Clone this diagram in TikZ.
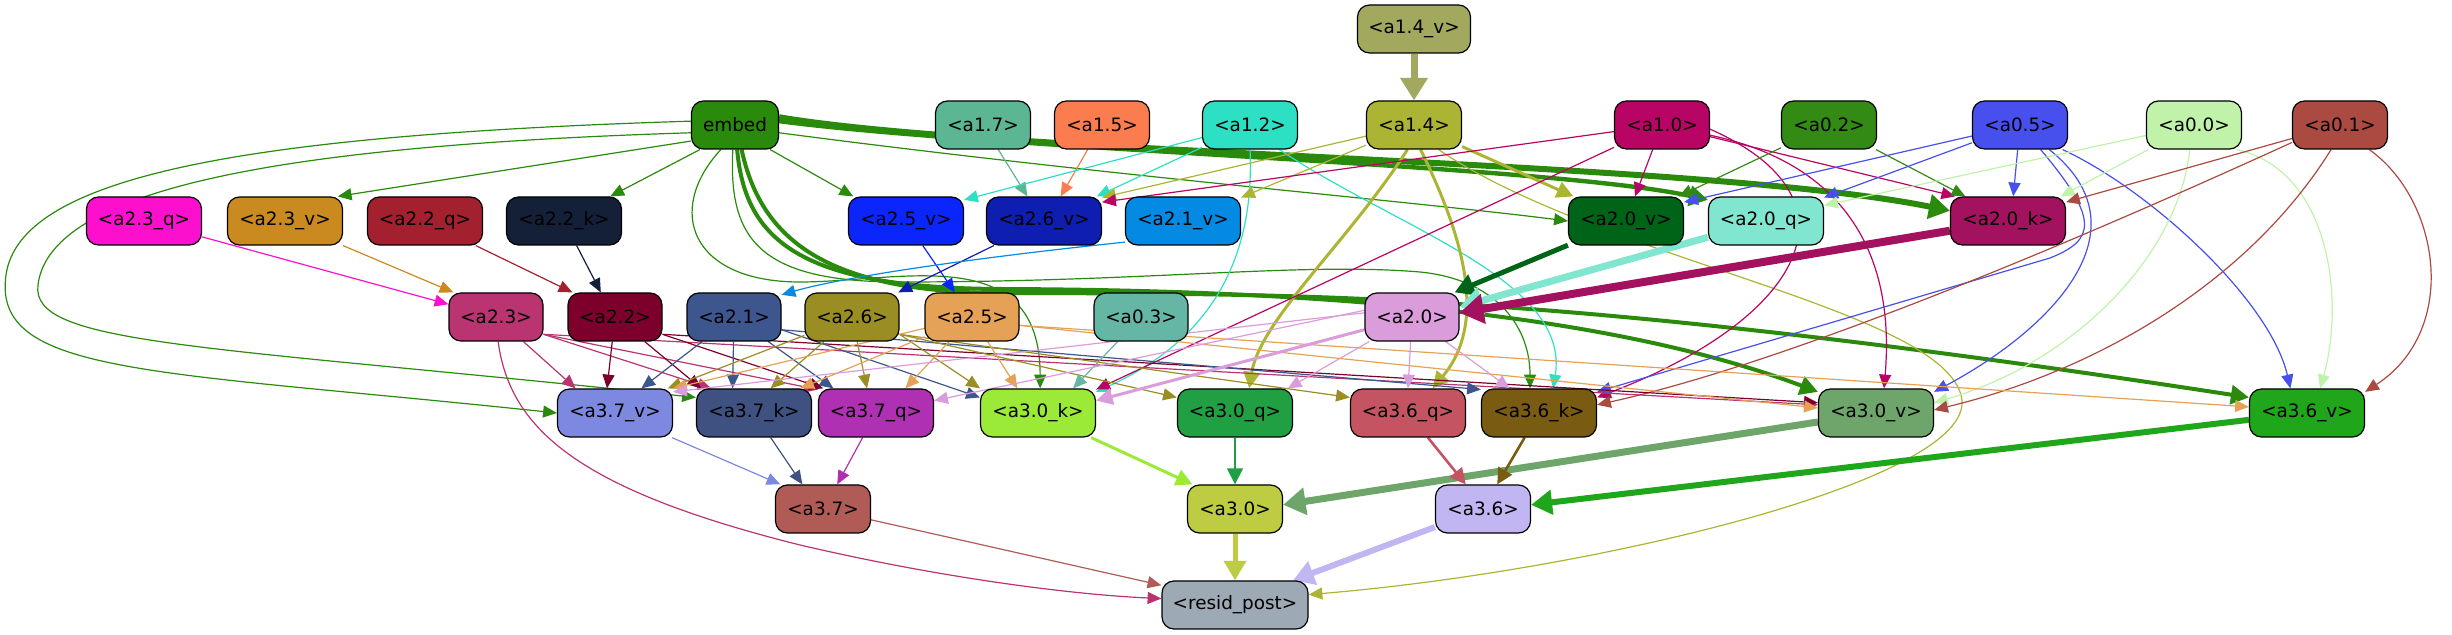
\documentclass[tikz,border=0pt]{standalone}
\usepackage{fontspec}
\newfontfamily\nf{DejaVu Sans}
\usetikzlibrary{arrows.meta}
\pgfdeclarelayer{edges}
\pgfsetlayers{edges,main}
\definecolor{cemb}{HTML}{2A8A0C}
\definecolor{ca14v}{HTML}{A2A95E}
\definecolor{ca17}{HTML}{5CB593}
\definecolor{ca15}{HTML}{FB7D4F}
\definecolor{ca12}{HTML}{2EE0C3}
\definecolor{ca14}{HTML}{ACB533}
\definecolor{ca10}{HTML}{B80464}
\definecolor{ca02}{HTML}{338B16}
\definecolor{ca05}{HTML}{474FEC}
\definecolor{ca00}{HTML}{C0F2AA}
\definecolor{ca01}{HTML}{AB4A40}
\definecolor{ca23q}{HTML}{FC10CD}
\definecolor{ca23v}{HTML}{CA8A1F}
\definecolor{ca22q}{HTML}{A3202F}
\definecolor{ca22k}{HTML}{142037}
\definecolor{ca25v}{HTML}{0A26FC}
\definecolor{ca26v}{HTML}{0D1EB0}
\definecolor{ca21v}{HTML}{058AE3}
\definecolor{ca20v}{HTML}{006418}
\definecolor{ca20q}{HTML}{80E6D0}
\definecolor{ca20k}{HTML}{A2125E}
\definecolor{ca23}{HTML}{B93470}
\definecolor{ca22}{HTML}{7C002B}
\definecolor{ca21}{HTML}{3D568D}
\definecolor{ca26}{HTML}{9A8D23}
\definecolor{ca25}{HTML}{E5A156}
\definecolor{ca03}{HTML}{65B6A5}
\definecolor{ca20}{HTML}{DB9CDB}
\definecolor{ca37v}{HTML}{7D89E0}
\definecolor{ca37k}{HTML}{3E5180}
\definecolor{ca37q}{HTML}{B030B3}
\definecolor{ca30k}{HTML}{9BEA37}
\definecolor{ca30q}{HTML}{20A042}
\definecolor{ca36q}{HTML}{C55462}
\definecolor{ca36k}{HTML}{7A5B12}
\definecolor{ca30v}{HTML}{6DA56B}
\definecolor{ca36v}{HTML}{20A61A}
\definecolor{ca37}{HTML}{B05B56}
\definecolor{ca30}{HTML}{BDCC43}
\definecolor{ca36}{HTML}{C1B6F2}
\definecolor{crp}{HTML}{9DA9B5}
\tikzset{
  nd/.style={draw=black, line width=0.6pt, rounded corners=6pt, minimum height=24pt, inner sep=0pt, text=black, font=\nf\fontsize{9.2pt}{11pt}\selectfont},
  e/.style={line width=0.6pt, -{Triangle[length=6pt 1.5, width=4.5pt 2.5]}},
}
\begin{document}
\begin{tikzpicture}[x=0.5pt,y=-0.5pt]
\useasboundingbox (0,0) rectangle (2452,635);
% row 0
\node[nd,fill=ca14v,minimum width=56.5pt] (a14v) at (1414,29) {<a1.4\_v>};
% row 1
\node[nd,fill=cemb,minimum width=43.5pt] (emb) at (735,125) {embed};
\node[nd,fill=ca17,minimum width=47.5pt] (a17) at (983,125) {<a1.7>};
\node[nd,fill=ca15,minimum width=47.5pt] (a15) at (1102,125) {<a1.5>};
\node[nd,fill=ca12,minimum width=47.5pt] (a12) at (1250,125) {<a1.2>};
\node[nd,fill=ca14,minimum width=47.5pt] (a14) at (1414,125) {<a1.4>};
\node[nd,fill=ca10,minimum width=47.5pt] (a10) at (1662,125) {<a1.0>};
\node[nd,fill=ca02,minimum width=47.5pt] (a02) at (1829,125) {<a0.2>};
\node[nd,fill=ca05,minimum width=47.5pt] (a05) at (2020,125) {<a0.5>};
\node[nd,fill=ca00,minimum width=47.5pt] (a00) at (2194,125) {<a0.0>};
\node[nd,fill=ca01,minimum width=47.5pt] (a01) at (2340,125) {<a0.1>};
% row 2
\node[nd,fill=ca23q,minimum width=57.5pt] (a23q) at (144,221) {<a2.3\_q>};
\node[nd,fill=ca23v,minimum width=57.5pt] (a23v) at (285,221) {<a2.3\_v>};
\node[nd,fill=ca22q,minimum width=57.5pt] (a22q) at (425,221) {<a2.2\_q>};
\node[nd,fill=ca22k,minimum width=57.5pt] (a22k) at (564,221) {<a2.2\_k>};
\node[nd,fill=ca25v,minimum width=57.5pt] (a25v) at (906,221) {<a2.5\_v>};
\node[nd,fill=ca26v,minimum width=57.5pt] (a26v) at (1044,221) {<a2.6\_v>};
\node[nd,fill=ca21v,minimum width=57.5pt] (a21v) at (1183,221) {<a2.1\_v>};
\node[nd,fill=ca20v,minimum width=57.5pt] (a20v) at (1626,221) {<a2.0\_v>};
\node[nd,fill=ca20q,minimum width=57.5pt] (a20q) at (1766,221) {<a2.0\_q>};
\node[nd,fill=ca20k,minimum width=57.5pt] (a20k) at (2008,221) {<a2.0\_k>};
% row 3
\node[nd,fill=ca23,minimum width=47pt] (a23) at (496,317) {<a2.3>};
\node[nd,fill=ca22,minimum width=47pt] (a22) at (615,317) {<a2.2>};
\node[nd,fill=ca21,minimum width=47pt] (a21) at (734,317) {<a2.1>};
\node[nd,fill=ca26,minimum width=47pt] (a26) at (852,317) {<a2.6>};
\node[nd,fill=ca25,minimum width=47pt] (a25) at (972,317) {<a2.5>};
\node[nd,fill=ca03,minimum width=47pt] (a03) at (1141,317) {<a0.3>};
\node[nd,fill=ca20,minimum width=47pt] (a20) at (1412,317) {<a2.0>};
% row 4
\node[nd,fill=ca37v,minimum width=57.5pt] (a37v) at (615,413) {<a3.7\_v>};
\node[nd,fill=ca37k,minimum width=57.5pt] (a37k) at (754,413) {<a3.7\_k>};
\node[nd,fill=ca37q,minimum width=57.5pt] (a37q) at (876,413) {<a3.7\_q>};
\node[nd,fill=ca30k,minimum width=57.5pt] (a30k) at (1038,413) {<a3.0\_k>};
\node[nd,fill=ca30q,minimum width=57.5pt] (a30q) at (1235,413) {<a3.0\_q>};
\node[nd,fill=ca36q,minimum width=57.5pt] (a36q) at (1408,413) {<a3.6\_q>};
\node[nd,fill=ca36k,minimum width=57.5pt] (a36k) at (1539,413) {<a3.6\_k>};
\node[nd,fill=ca30v,minimum width=57.5pt] (a30v) at (1876,413) {<a3.0\_v>};
\node[nd,fill=ca36v,minimum width=57.5pt] (a36v) at (2307,413) {<a3.6\_v>};
% row 5
\node[nd,fill=ca37,minimum width=47.5pt] (a37) at (823,509) {<a3.7>};
\node[nd,fill=ca30,minimum width=47.5pt] (a30) at (1235,509) {<a3.0>};
\node[nd,fill=ca36,minimum width=47.5pt] (a36) at (1483,509) {<a3.6>};
% row 6
\node[nd,fill=crp,minimum width=73pt] (rp) at (1235,605) {<resid\_post>};

\begin{pgfonlayer}{edges}
\draw[e,ca14v,line width=3.5pt] (a14v) -- (a14);
% embed
\draw[e,cemb,line width=3pt] (emb.10) .. controls (1000,155) and (1700,160) .. (a20k.170);
\draw[e,cemb,line width=2.2pt] (emb.5) .. controls (1000,150) and (1550,165) .. (a20q.160);
\draw[e,cemb] (emb.-10) .. controls (1100,175) and (1400,200) .. (a20v.west);
\draw[e,cemb] (emb.-35) -- (a25v.155);
\draw[e,cemb] (emb.200) -- (a23v.25);
\draw[e,cemb] (emb.215) -- (a22k.28);
\draw[e,cemb] (emb.175) .. controls (250,135) and (20,175) .. (6,275) .. controls (-8,375) and (150,370) .. (a37v.west);
\draw[e,cemb] (emb.190) .. controls (300,145) and (50,185) .. (38,285) .. controls (30,345) and (200,345) .. (a37k.165);
\draw[e,cemb] (emb.240) .. controls (665,210) and (690,282) .. (800,282) .. controls (900,282) and (1040,240) .. (a30k.85);
\draw[e,cemb] (emb.265) .. controls (728,240) and (760,282) .. (900,282) .. controls (1150,282) and (1300,262) .. (1420,272) .. controls (1500,280) and (1530,330) .. (a36k.110);
\draw[e,cemb,line width=2pt] (emb.275) .. controls (745,240) and (800,288) .. (1000,289) .. controls (1300,290) and (1600,310) .. (a30v.160);
\draw[e,cemb,line width=2pt] (emb.285) .. controls (760,235) and (820,292) .. (1000,293) .. controls (1300,294) and (1550,290) .. (a36v.165);
% a1.x
\draw[e,ca17] (a17) -- (a26v.124);
\draw[e,ca15] (a15) -- (a26v.56);
\draw[e,ca12] (a12) -- (a25v.20);
\draw[e,ca12] (a12) -- (a26v.25);
\draw[e,ca12] (a12.south) .. controls (1255,260) and (1210,340) .. (a30k.20);
\draw[e,ca12] (a12.-40) .. controls (1400,230) and (1570,280) .. (a36k.60);
\draw[e,ca14,line width=1.5pt] (a14) -- (a20v.155);
\draw[e,ca14] (a14) -- (a26v.22);
\draw[e,ca14] (a14) -- (a21v.22);
\draw[e,ca14,line width=1.5pt] (a14.255) .. controls (1350,240) and (1260,320) .. (a30q.60);
\draw[e,ca14,line width=1.5pt] (a14.285) .. controls (1460,230) and (1490,320) .. (a36q.45);
\draw[e,ca14] (a14.-45) .. controls (1600,260) and (1950,310) .. (1962,400) .. controls (1970,480) and (1600,570) .. (rp.8);
\draw[e,ca10] (a10) -- (a20v.70);
\draw[e,ca10] (a10) -- (a26v.18);
\draw[e,ca10] (a10) -- (a20k.155);
\draw[e,ca10] (a10) -- (a30k.22);
\draw[e,ca10] (a10.-5) .. controls (1870,200) and (1800,320) .. (a36k.15);
\draw[e,ca10] (a10.-12) .. controls (1850,165) and (1895,260) .. (a30v.72);
% a0.x
\draw[e,ca02] (a02) -- (a20v.25);
\draw[e,ca02] (a02) -- (a20k.150);
\draw[e,ca05] (a05) -- (a20v.18);
\draw[e,ca05] (a05) -- (a20q.22);
\draw[e,ca05] (a05) -- (a20k.78);
\draw[e,ca05] (a05.-50) .. controls (2100,220) and (2095,240) .. (2050,258) -- (a36k.20);
\draw[e,ca05] (a05.-40) .. controls (2150,230) and (2050,330) .. (a30v.20);
\draw[e,ca05] (a05.-30) .. controls (2150,190) and (2270,300) .. (a36v.124);
\draw[e,ca00] (a00) -- (a20q.15);
\draw[e,ca00] (a00) -- (a20k.25);
\draw[e,ca00] (a00.260) .. controls (2180,250) and (2080,360) .. (a30v.10);
\draw[e,ca00] (a00.-30) .. controls (2330,170) and (2345,300) .. (a36v.62);
\draw[e,ca01] (a01) -- (a20k.18);
\draw[e,ca01] (a01.200) .. controls (2100,230) and (1800,360) .. (a36k.8);
\draw[e,ca01] (a01.250) .. controls (2250,280) and (2100,370) .. (a30v.3);
\draw[e,ca01] (a01.-40) .. controls (2440,200) and (2460,330) .. (a36v.20);
% row 2 -> 3
\draw[e,ca23q] (a23q) -- (a23.165);
\draw[e,ca23v] (a23v) -- (a23.150);
\draw[e,ca22q] (a22q) -- (a22.150);
\draw[e,ca22k] (a22k) -- (a22.120);
\draw[e,ca25v] (a25v) -- (a25.125);
\draw[e,ca26v] (a26v) -- (a26.28);
\draw[e,ca21v] (a21v.200) .. controls (1000,255) and (850,275) .. (a21.25);
\draw[e,ca20v,line width=2.5pt] (a20v) -- (a20.30);
\draw[e,ca20q,line width=3.5pt] (a20q) -- (a20.12);
\draw[e,ca20k,line width=4pt] (a20k) -- (a20.5);
% row 3 -> 4
\draw[e,ca23] (a23) -- (a37v.148);
\draw[e,ca23] (a23.-20) -- (a37k.150);
\draw[e,ca23] (a23.-20) -- (a37q.158);
\draw[e,ca23] (a23.-20) -- (a30v.172);
\draw[e,ca23] (a23.-85) .. controls (510,430) and (580,490) .. (800,545) .. controls (950,580) and (1080,595) .. (rp.175);
\draw[e,ca22] (a22) -- (a37v.108);
\draw[e,ca22] (a22) -- (a37k.155);
\draw[e,ca22] (a22.-20) -- (a37q.155);
\draw[e,ca22] (a22.-20) -- (a30v.170);
\draw[e,ca21] (a21) -- (a37v.43);
\draw[e,ca21] (a21) -- (a37k.131);
\draw[e,ca21] (a21) -- (a37q.150);
\draw[e,ca21] (a21.-15) -- (a30k.165);
\draw[e,ca21] (a21.-15) -- (a36k.158);
\draw[e,ca26] (a26) -- (a37v.25);
\draw[e,ca26] (a26) -- (a37k.56);
\draw[e,ca26] (a26) -- (a37q.110);
\draw[e,ca26] (a26.-20) -- (a30k.157);
\draw[e,ca26] (a26.-20) -- (a30q.165);
\draw[e,ca26] (a26.-20) -- (a36q.165);
\draw[e,ca25] (a25) -- (a37v.23);
\draw[e,ca25] (a25) -- (a37k.28);
\draw[e,ca25] (a25) -- (a37q.40);
\draw[e,ca25] (a25) -- (a30k.130);
\draw[e,ca25] (a25.-10) -- (a30v.175);
\draw[e,ca25] (a25.-10) -- (a36v.174);
\draw[e,ca03] (a03) -- (a30k.35);
\draw[e,ca20] (a20.175) -- (a37v.20);
\draw[e,ca20] (a20.172) -- (a37q.12);
\draw[e,ca20,line width=1.5pt] (a20.195) -- (a30k.12);
\draw[e,ca20] (a20) -- (a30q.25);
\draw[e,ca20] (a20) -- (a36q.90);
\draw[e,ca20] (a20) -- (a36k.140);
% row 4 -> 5
\draw[e,ca37v] (a37v) -- (a37.150);
\draw[e,ca37k] (a37k) -- (a37.130);
\draw[e,ca37q] (a37q) -- (a37.60);
\draw[e,ca30k,line width=1.5pt] (a30k) -- (a30.150);
\draw[e,ca30q,line width=1.3pt] (a30q) -- (a30);
\draw[e,ca30v,line width=3.5pt] (a30v) -- (a30.5);
\draw[e,ca36q,line width=1.3pt] (a36q) -- (a36.125);
\draw[e,ca36k,line width=1.3pt] (a36k) -- (a36.60);
\draw[e,ca36v,line width=3pt] (a36v) -- (a36.5);
% row 5 -> 6
\draw[e,ca37] (a37) -- (rp.165);
\draw[e,ca30,line width=2.5pt] (a30) -- (rp);
\draw[e,ca36,line width=3pt] (a36) -- (rp.23);
\end{pgfonlayer}
\end{tikzpicture}
\end{document}
